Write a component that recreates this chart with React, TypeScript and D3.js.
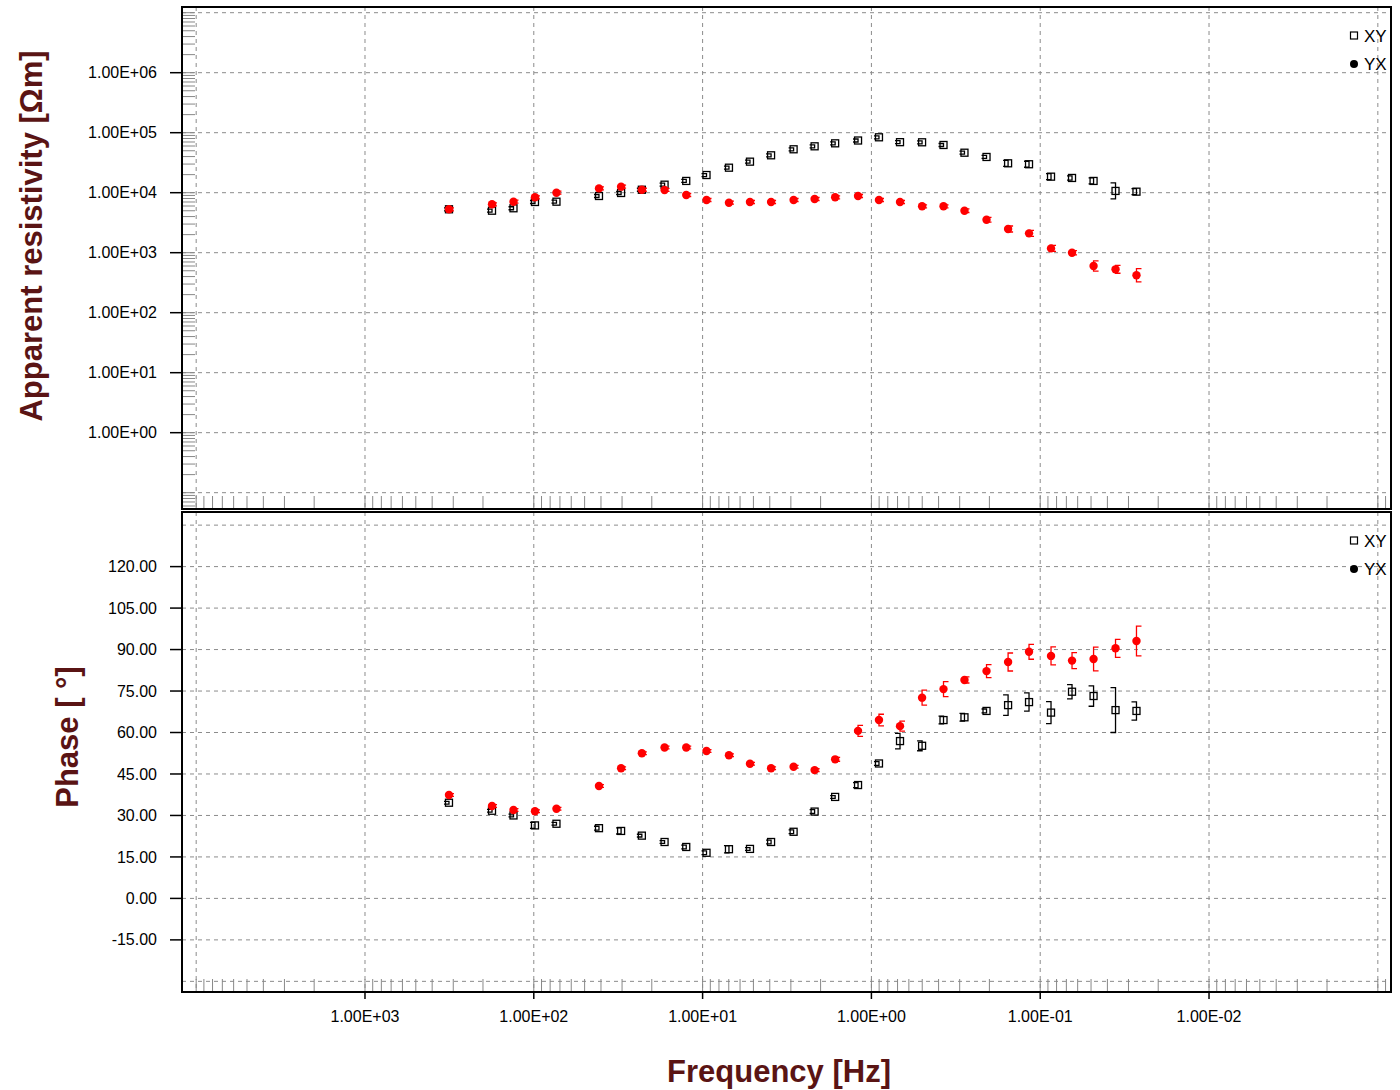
import React from "react";
import * as d3 from "d3";

// frequencies [Hz], one per sounding
const freqs = [
  318, 176.8, 131.9, 98.4, 73.4, 41.1, 30.4, 22.9, 16.8, 12.5, 9.48, 6.98, 5.24,
  3.93, 2.89, 2.17, 1.64, 1.2, 0.902, 0.677, 0.501, 0.374, 0.281, 0.208, 0.155,
  0.1165, 0.0863, 0.0648, 0.0483, 0.0358, 0.0269,
];

// apparent resistivity [Ohm m]
const rhoXY = [
  5290, 5010, 5500, 7000, 7080, 8810, 9890, 11200, 13600, 15700, 19700, 26100,
  32900, 42000, 52900, 59300, 66500, 74100, 83800, 69500, 69200, 62400, 46400,
  39400, 30900, 29800, 18500, 17600, 15700, 10700, 10400,
];
const rhoYX = [
  5290, 6410, 7080, 8380, 10000, 11800, 12600, 11200, 11100, 9150, 7560, 6810,
  7000, 7000, 7560, 7850, 8380, 8810, 7560, 7000, 5930, 5930, 5010, 3550, 2480,
  2100, 1180, 1000, 600, 528, 420,
];
// error half width in decades
const rhoXYErr = [
  0.025, 0.025, 0.025, 0.025, 0.025, 0.025, 0.025, 0.025, 0.025, 0.025, 0.025,
  0.025, 0.025, 0.025, 0.025, 0.025, 0.025, 0.025, 0.025, 0.025, 0.025, 0.025,
  0.025, 0.025, 0.05, 0.05, 0.05, 0.035, 0.05, 0.133, 0.05,
];
const rhoYXErr = [
  0.025, 0.025, 0.025, 0.025, 0.025, 0.025, 0.025, 0.025, 0.025, 0.025, 0.025,
  0.025, 0.025, 0.025, 0.025, 0.025, 0.025, 0.025, 0.025, 0.025, 0.025, 0.025,
  0.03, 0.04, 0.05, 0.05, 0.05, 0.035, 0.085, 0.065, 0.11,
];

// phase [deg]
const phaseXY = [
  34.6, 31.7, 30.0, 26.4, 27.0, 25.4, 24.4, 22.7, 20.4, 18.6, 16.5, 17.8, 17.9,
  20.4, 24.1, 31.4, 36.7, 41.0, 48.8, 56.9, 55.2, 64.5, 65.5, 67.8, 69.9, 71.0,
  67.2, 74.75, 73.2, 68.1, 67.8,
];
const phaseYX = [
  37.4, 33.4, 32.0, 31.5, 32.4, 40.65, 47.05, 52.5, 54.6, 54.6, 53.3, 51.75,
  48.7, 47.05, 47.6, 46.4, 50.3, 60.6, 64.5, 62.3, 72.6, 75.7, 79.0, 82.2, 85.5,
  89.2, 87.7, 86.0, 86.6, 90.45, 93.1,
];
const phaseXYErr = [
  0.5, 0.5, 0.5, 1.1, 0.5, 0.7, 1.1, 0.5, 0.5, 0.7, 0.7, 1.3, 0.5, 0.7, 0.7,
  0.7, 0.5, 0.9, 0.7, 2.8, 1.8, 1.4, 1.4, 0.7, 3.7, 3.3, 4.0, 2.6, 3.7, 8.1, 3.3,
];
const phaseYXErr = [
  0.5, 0.5, 0.5, 0.5, 0.5, 0.5, 0.5, 0.5, 0.5, 0.5, 0.5, 0.5, 0.5, 0.5, 0.5,
  0.5, 0.7, 2.0, 2.1, 1.8, 2.7, 2.7, 1.1, 2.35, 3.25, 2.7, 3.25, 2.9, 4.3, 3.25,
  5.4,
];

// axes
const freqLabels = [1e3, 1e2, 1e1, 1e0, 1e-1, 1e-2];
const freqGrid = [1e4, 1e3, 1e2, 1e1, 1e0, 1e-1, 1e-2, 1e-3];
const rhoLabels = [1e0, 1e1, 1e2, 1e3, 1e4, 1e5, 1e6];
const rhoGrid = [1e-1, 1e0, 1e1, 1e2, 1e3, 1e4, 1e5, 1e6, 1e7];
const phaseLabels = [120, 105, 90, 75, 60, 45, 30, 15, 0, -15];
const phaseGrid = [135, 120, 105, 90, 75, 60, 45, 30, 15, 0, -15, -30];

const FONT = '"Liberation Sans", Arial, sans-serif';
const TITLE = "#5a1414";
const GRID = "#8c8c8c";

const left = 182;
const right = 1391;
const top1 = 7;
const bot1 = 509;
const top2 = 512;
const bot2 = 992;

const x = d3.scaleLog().domain([10 ** 4.084, 10 ** -3.078]).range([left, right]);
const yRho = d3.scaleLog().domain([10 ** -1.272, 10 ** 7.095]).range([bot1, top1]);
const yPh = d3.scaleLinear().domain([-33.85, 139.75]).range([bot2, top2]);

const expLabel = (v: number) => {
  const e = Math.round(Math.log10(v));
  return `1.00E${e < 0 ? "-" : "+"}${String(Math.abs(e)).padStart(2, "0")}`;
};
// plain hyphen for negatives, like the original
const fixed = (v: number) => v.toFixed(2);

// every 1..9 multiple inside a log domain
function logMinors(domain: number[]) {
  const lo = Math.min(domain[0], domain[1]);
  const hi = Math.max(domain[0], domain[1]);
  const out: number[] = [];
  for (let e = Math.floor(Math.log10(lo)); e <= Math.ceil(Math.log10(hi)); e++) {
    for (let m = 1; m <= 9; m++) {
      const v = m * 10 ** e;
      if (v >= lo && v <= hi) out.push(v);
    }
  }
  return out;
}

const xMinors = logMinors(x.domain());
const rhoMinors = logMinors(yRho.domain());

function ErrBar({ cx, y0, y1, dir, color }: any) {
  const c = 5 * dir;
  return (
    <path
      d={`M${cx + c},${y0}H${cx}V${y1}H${cx + c}`}
      fill="none"
      stroke={color}
      strokeWidth={1.3}
    />
  );
}

function Panel({ yTop, yBot, yScale, grid, labels, fmt, minorsY, series }: any) {
  return (
    <g>
      {/* grid */}
      {freqGrid.map((f) => (
        <line key={"gx" + f} x1={x(f)} x2={x(f)} y1={yTop} y2={yBot}
          stroke={GRID} strokeDasharray="4,4" />
      ))}
      {grid.map((v: number) => (
        <line key={"gy" + v} x1={left} x2={right} y1={yScale(v)} y2={yScale(v)}
          stroke={GRID} strokeDasharray="4,4" />
      ))}
      {/* minor ticks */}
      {xMinors.map((f) => (
        <line key={"mx" + f} x1={x(f)} x2={x(f)} y1={yBot} y2={yBot - 13}
          stroke="#888" strokeWidth={1} />
      ))}
      {minorsY &&
        minorsY.map((v: number) => (
          <line key={"my" + v} x1={left} x2={left + 13} y1={yScale(v)} y2={yScale(v)}
            stroke="#888" strokeWidth={1} />
        ))}
      {/* y labels */}
      {labels.map((v: number) => (
        <g key={"ly" + v}>
          <line x1={170} x2={left} y1={yScale(v)} y2={yScale(v)} stroke="#000" strokeWidth={1.5} />
          <text x={157} y={yScale(v)} dy="0.35em" textAnchor="end"
            fontFamily={FONT} fontSize={16} fill="#000">
            {fmt(v)}
          </text>
        </g>
      ))}
      {/* data */}
      {series.map((s: any) =>
        freqs.map((f, i) => {
          const cx = x(f);
          const cy = yScale(s.values[i]);
          const [lo, hi] = s.range(i);
          return (
            <g key={s.name + i}>
              <ErrBar cx={cx} y0={yScale(lo)} y1={yScale(hi)} dir={s.dir} color={s.color} />
              {s.square ? (
                <rect x={cx - 3.5} y={cy - 3.5} width={7} height={7}
                  fill="#fff" fillOpacity={0} stroke={s.color} strokeWidth={1.3} />
              ) : (
                <circle cx={cx} cy={cy} r={4.2} fill={s.color} />
              )}
            </g>
          );
        })
      )}
      {/* legend */}
      <rect x={1350.5} y={yTop + 25} width={7} height={7} fill="none" stroke="#000" strokeWidth={1.2} />
      <text x={1364} y={yTop + 29} dy="0.35em" fontFamily={FONT} fontSize={17} fill="#000">XY</text>
      <circle cx={1354} cy={yTop + 57} r={4} fill="#000" />
      <text x={1364} y={yTop + 57} dy="0.35em" fontFamily={FONT} fontSize={17} fill="#000">YX</text>
      {/* frame */}
      <rect x={left} y={yTop} width={right - left} height={yBot - yTop}
        fill="none" stroke="#000" strokeWidth={2} />
    </g>
  );
}

export default function App() {
  const rhoSeries = [
    {
      name: "XY", values: rhoXY, color: "#000", dir: -1, square: true,
      range: (i: number) => [rhoXY[i] / 10 ** rhoXYErr[i], rhoXY[i] * 10 ** rhoXYErr[i]],
    },
    {
      name: "YX", values: rhoYX, color: "#ff0000", dir: 1, square: false,
      range: (i: number) => [rhoYX[i] / 10 ** rhoYXErr[i], rhoYX[i] * 10 ** rhoYXErr[i]],
    },
  ];
  const phSeries = [
    {
      name: "XY", values: phaseXY, color: "#000", dir: -1, square: true,
      range: (i: number) => [phaseXY[i] - phaseXYErr[i], phaseXY[i] + phaseXYErr[i]],
    },
    {
      name: "YX", values: phaseYX, color: "#ff0000", dir: 1, square: false,
      range: (i: number) => [phaseYX[i] - phaseYXErr[i], phaseYX[i] + phaseYXErr[i]],
    },
  ];

  return (
    <svg width={1400} height={1090}
      style={{ position: "absolute", left: 0, top: 0, background: "#fff" }}>
      <rect width={1400} height={1090} fill="#fff" />
      <Panel yTop={top1} yBot={bot1} yScale={yRho} grid={rhoGrid} labels={rhoLabels}
        fmt={expLabel} minorsY={rhoMinors} series={rhoSeries} />
      <Panel yTop={top2} yBot={bot2} yScale={yPh} grid={phaseGrid} labels={phaseLabels}
        fmt={fixed} minorsY={null} series={phSeries} />
      {/* x axis labels */}
      {freqLabels.map((f) => (
        <g key={"lx" + f}>
          <line x1={x(f)} x2={x(f)} y1={bot2} y2={bot2 + 7} stroke="#000" strokeWidth={1.5} />
          <text x={x(f)} y={1022} textAnchor="middle" fontFamily={FONT} fontSize={16} fill="#000">
            {expLabel(f)}
          </text>
        </g>
      ))}
      {/* titles */}
      <text transform="translate(42,236) rotate(-90)" textAnchor="middle"
        fontFamily={FONT} fontWeight="bold" fontSize={31} fill={TITLE}>
        Apparent resistivity [Ωm]
      </text>
      <text transform="translate(78,737) rotate(-90)" textAnchor="middle"
        fontFamily={FONT} fontWeight="bold" fontSize={31} fill={TITLE}>
        Phase [ °]
      </text>
      <text x={779} y={1082} textAnchor="middle"
        fontFamily={FONT} fontWeight="bold" fontSize={31} fill={TITLE}>
        Frequency [Hz]
      </text>
    </svg>
  );
}
